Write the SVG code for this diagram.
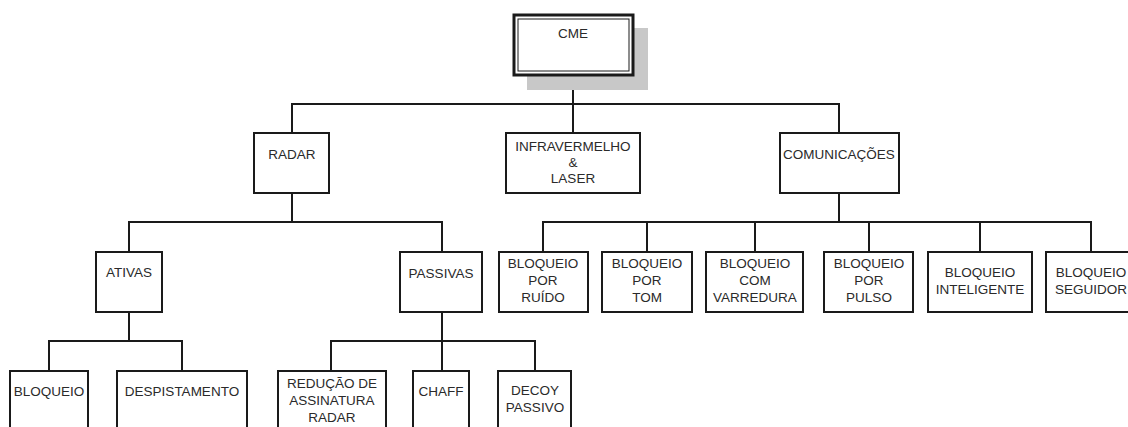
<svg xmlns="http://www.w3.org/2000/svg" width="1128" height="427" viewBox="0 0 1128 427">
<style>
.b{fill:#fff;stroke:#1a1a1a;stroke-width:2}
.c{fill:none;stroke:#1a1a1a;stroke-width:2}
text{font-family:"Liberation Sans",Arial,sans-serif;font-size:13.5px;fill:#2a2a2a;text-anchor:middle}
</style>
<rect width="1128" height="427" fill="#fff"/>
<g id="connectors">
<path class="c" d="M573 75V104M292 133V104H839V133M573 104V133"/>
<path class="c" d="M292 193V222H129V252M292 222H442V252"/>
<path class="c" d="M839 193V222M543 252V222H1091V252M647 222V252M755 222V252M869 222V252M980 222V252"/>
<path class="c" d="M129 312V341M49 371V341H182V371"/>
<path class="c" d="M442 312V371M331 371V341H535V371"/>
</g>
<g id="cme">
<rect x="527" y="28" width="121" height="62" fill="#c8c8c8"/>
<rect x="514" y="15" width="119" height="60" fill="#fff" stroke="#1a1a1a" stroke-width="3"/>
<rect x="518" y="19" width="111" height="52" fill="none" stroke="#1a1a1a" stroke-width="1"/>
<text x="573" y="38">CME</text>
</g>
<g id="radar"><rect class="b" x="254" y="133" width="75" height="60"/><text x="292" y="159">RADAR</text></g>
<g id="infra"><rect class="b" x="506" y="133" width="134" height="60"/><text x="573" y="151">INFRAVERMELHO</text><text x="573" y="167">&amp;</text><text x="573" y="183">LASER</text></g>
<g id="comunicacoes"><rect class="b" x="780" y="133" width="119" height="60"/><text x="839" y="159">COMUNICAÇÕES</text></g>
<g id="ativas"><rect class="b" x="96" y="252" width="66" height="60"/><text x="129" y="277">ATIVAS</text></g>
<g id="passivas"><rect class="b" x="400" y="252" width="82" height="60"/><text x="441" y="278">PASSIVAS</text></g>
<g id="ruido"><rect class="b" x="499" y="252" width="89" height="60"/><text x="543" y="268">BLOQUEIO</text><text x="543" y="285">POR</text><text x="543" y="302">RUÍDO</text></g>
<g id="tom"><rect class="b" x="602" y="252" width="90" height="60"/><text x="647" y="268">BLOQUEIO</text><text x="647" y="285">POR</text><text x="647" y="302">TOM</text></g>
<g id="varredura"><rect class="b" x="706" y="252" width="97" height="60"/><text x="755" y="268">BLOQUEIO</text><text x="755" y="285">COM</text><text x="755" y="302">VARREDURA</text></g>
<g id="pulso"><rect class="b" x="824" y="252" width="89" height="60"/><text x="869" y="268">BLOQUEIO</text><text x="869" y="285">POR</text><text x="869" y="302">PULSO</text></g>
<g id="inteligente"><rect class="b" x="928" y="252" width="104" height="60"/><text x="980" y="277">BLOQUEIO</text><text x="980" y="294">INTELIGENTE</text></g>
<g id="seguidor"><rect class="b" x="1046" y="252" width="90" height="60"/><text x="1091" y="277">BLOQUEIO</text><text x="1091" y="294">SEGUIDOR</text></g>
<g id="bloqueio"><rect class="b" x="10" y="371" width="78" height="70"/><text x="49" y="396">BLOQUEIO</text></g>
<g id="despistamento"><rect class="b" x="117" y="371" width="130" height="70"/><text x="182" y="396">DESPISTAMENTO</text></g>
<g id="reducao"><rect class="b" x="278" y="371" width="108" height="70"/><text x="332" y="388">REDUÇÃO DE</text><text x="332" y="405">ASSINATURA</text><text x="332" y="422">RADAR</text></g>
<g id="chaff"><rect class="b" x="413" y="371" width="56" height="70"/><text x="441" y="396">CHAFF</text></g>
<g id="decoy"><rect class="b" x="498" y="371" width="73" height="70"/><text x="535" y="395">DECOY</text><text x="535" y="412">PASSIVO</text></g>
</svg>
